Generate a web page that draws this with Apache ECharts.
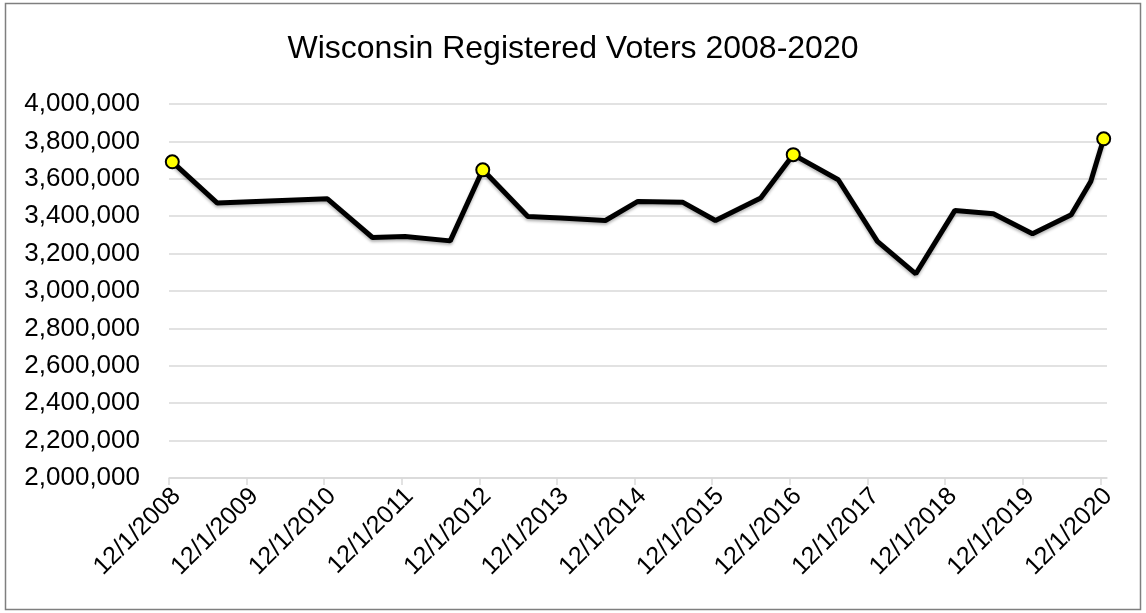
<!DOCTYPE html>
<html>
<head>
<meta charset="utf-8">
<title>Wisconsin Registered Voters 2008-2020</title>
<script src="https://cdn.jsdelivr.net/npm/echarts@6/dist/echarts.min.js"></script>
<style>
  html, body { margin: 0; padding: 0; background: #fff; }
  #chart { width: 1146px; height: 613px; }
</style>
</head>
<body>
<div id="chart"></div>
<script>
// month of each reading (Excel plots each month in the middle of its slot)
const months = [
  '2008-12', '2009-07', '2010-12', '2011-07', '2011-12', '2012-07', '2012-12',
  '2013-07', '2013-12', '2014-07', '2014-12', '2015-07', '2015-12', '2016-07',
  '2016-12', '2017-07', '2018-01', '2018-07', '2019-01', '2019-07', '2020-01',
  '2020-07', '2020-10', '2020-11', '2020-12'
]
const voters = [
  3691000, 3470000, 3493000, 3286000, 3291000, 3268000, 3648000,
  3398000, 3390000, 3377000, 3479000, 3474000, 3377000, 3497000,
  3729000, 3595000, 3265000, 3092000, 3431000, 3413000, 3306000,
  3408000, 3586000, 3700000, 3814000
]
// presidential elections, drawn with a yellow marker
const electionMonths = ['2008-12', '2012-12', '2016-12', '2020-12']
const tickLabels = [
  '12/1/2008', '12/1/2009', '12/1/2010', '12/1/2011', '12/1/2012', '12/1/2013', '12/1/2014',
  '12/1/2015', '12/1/2016', '12/1/2017', '12/1/2018', '12/1/2019', '12/1/2020'
]
const yMin = 2000000
const yMax = 4000000
const yStep = 200000

function parseMDY(s) {
  const [m, d, y] = s.split('/').map(Number)
  return Date.UTC(y, m - 1, d)
}
function midMonth(s) {
  const [y, m] = s.split('-').map(Number)
  return (Date.UTC(y, m - 1, 1) + Date.UTC(y, m, 1)) / 2
}
function fmtDate(v) {
  const d = new Date(v + 43200000)
  return (d.getUTCMonth() + 1) + '/' + d.getUTCDate() + '/' + d.getUTCFullYear()
}

const tickValues = tickLabels.map(parseMDY)
const seriesData = months.map((m, i) => {
  const item = { value: [midMonth(m), voters[i]] }
  if (electionMonths.includes(m)) {
    item.symbol = 'circle'
  }
  return item
})

const labelFont = '"Liberation Sans", Arial, sans-serif'
const chart = echarts.init(document.getElementById('chart'))
chart.setOption({
  backgroundColor: '#fff',
  animation: false,
  title: {
    text: 'Wisconsin Registered Voters 2008-2020',
    left: 'center',
    top: 28,
    textStyle: {
      fontFamily: labelFont,
      fontSize: 32,
      fontWeight: 'normal',
      color: '#000'
    }
  },
  graphic: [{
    type: 'rect',
    shape: { x: 5.5, y: 3.5, width: 1135, height: 606 },
    style: { fill: 'none', stroke: '#7f7f7f', lineWidth: 1.5 },
    silent: true
  }],
  grid: {
    left: 169,
    right: 39,
    top: 104,
    bottom: 135
  },
  xAxis: {
    type: 'value',
    min: Date.UTC(2008, 11, 1),
    max: Date.UTC(2021, 0, 1),
    splitLine: { show: false },
    axisLine: { lineStyle: { color: '#d9d9d9', width: 1.5 } },
    axisTick: {
      customValues: tickValues,
      length: 7,
      lineStyle: { color: '#d9d9d9', width: 1.5 }
    },
    axisLabel: {
      customValues: tickValues,
      rotate: 45,
      margin: 22,
      padding: [0, -11, 0, 0],
      fontFamily: labelFont,
      fontSize: 25,
      color: '#000',
      formatter: fmtDate
    }
  },
  yAxis: {
    type: 'value',
    min: yMin,
    max: yMax,
    interval: yStep,
    axisLine: { show: false },
    axisTick: { show: false },
    splitLine: { lineStyle: { color: '#d9d9d9', width: 1.5 } },
    axisLabel: {
      margin: 29,
      fontFamily: labelFont,
      fontSize: 26,
      color: '#000',
      formatter: v => v.toLocaleString('en-US')
    }
  },
  series: [{
    name: 'Registered voters',
    type: 'line',
    data: seriesData,
    symbol: 'none',
    symbolSize: 13,
    itemStyle: { color: '#ffff00', borderColor: '#000', borderWidth: 2 },
    lineStyle: {
      color: '#000',
      width: 5,
      shadowColor: 'rgba(0,0,0,0.3)',
      shadowBlur: 3,
      shadowOffsetY: 2
    },
    z: 3
  }]
})
</script>
</body>
</html>
